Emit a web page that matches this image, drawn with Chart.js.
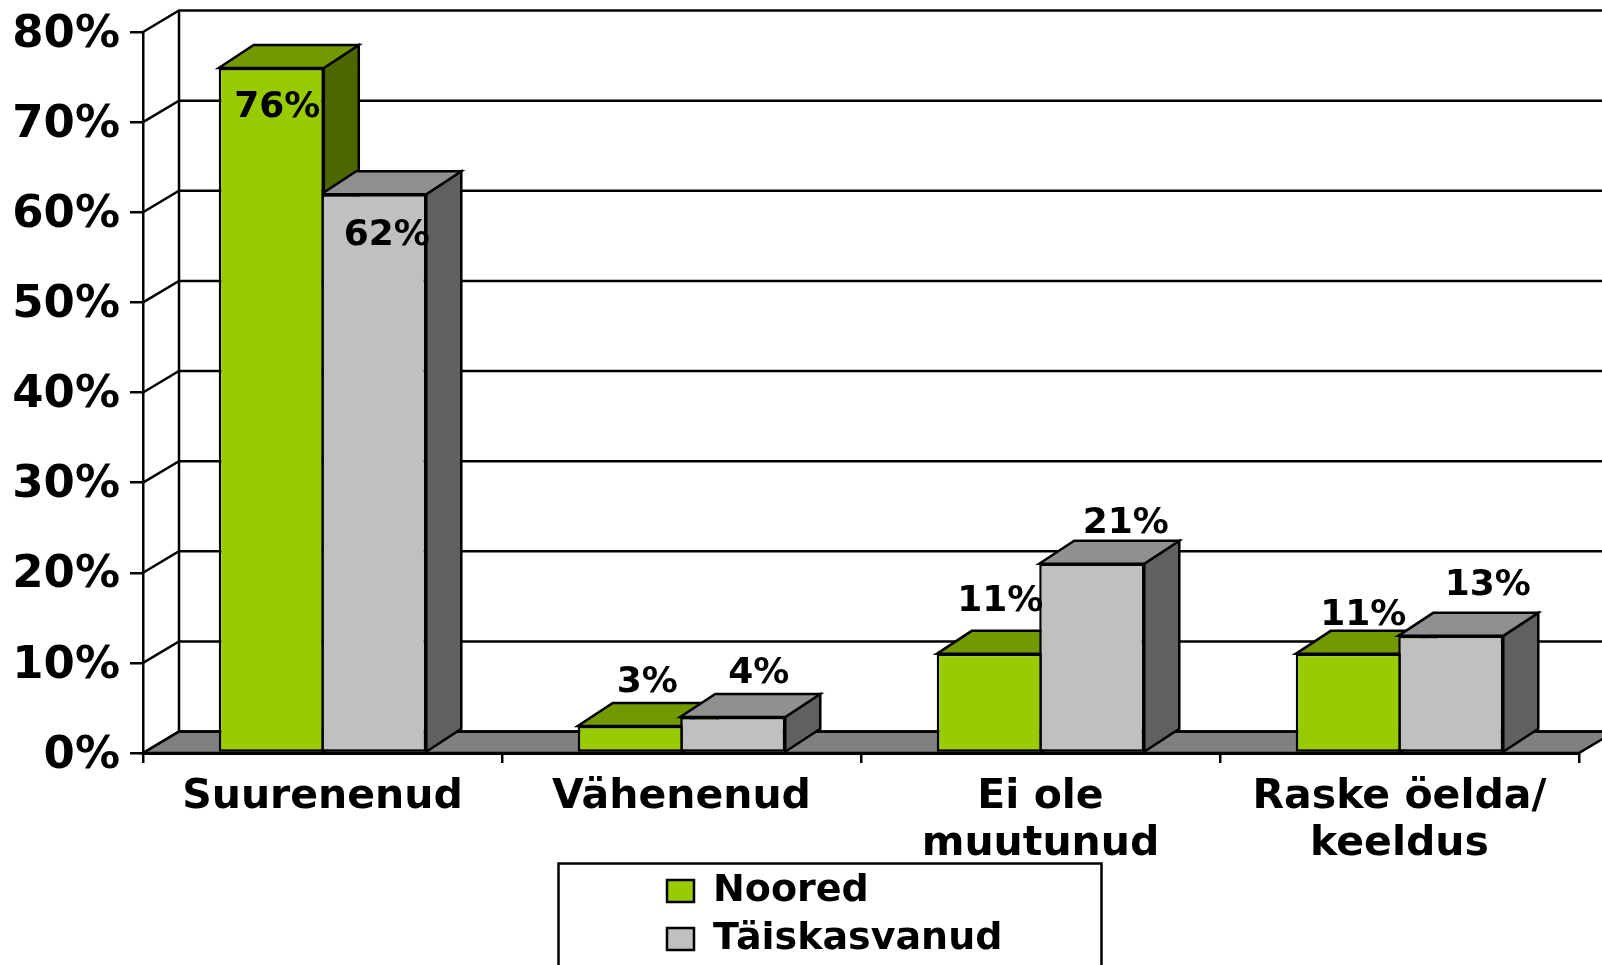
<!DOCTYPE html>
<html><head><meta charset="utf-8">
<style>html,body{margin:0;padding:0;background:#fff;overflow:hidden}canvas{display:block}</style>
<script src="https://cdn.jsdelivr.net/npm/chart.js@4"></script>
</head><body>
<canvas id="c" width="1602" height="965"></canvas>
<script>
const categories = [['Suurenenud'], ['Vähenenud'], ['Ei ole', 'muutunud'], ['Raske öelda/', 'keeldus']];
const noored = [76, 3, 11, 11];
const taiskasvanud = [62, 4, 21, 13];
const seriesNames = ['Noored', 'Täiskasvanud'];
const frontColors = ['#99CC00', '#C0C0C0'];
const topColors = ['#739900', '#909090'];
const sideColors = ['#4D6600', '#606060'];
// label nudges relative to each bar's top-centre: [dx, dy] of the text centre
const labelNudge = [
  [[6, 40], [13, 41]],
  [[17, -43], [26, -43]],
  [[11, -52], [34, -40]],
  [[15, -38], [37, -50]]
];
const FONT = '"DejaVu Sans"';
const LINE = 2.5;
const wallDX = 36, wallDY = 21.5, barDX = 35, barDY = 23;

function poly(ctx, pts, fill) {
  ctx.beginPath();
  pts.forEach((p, i) => i ? ctx.lineTo(p[0], p[1]) : ctx.moveTo(p[0], p[1]));
  ctx.closePath();
  if (fill) { ctx.fillStyle = fill; ctx.fill(); }
  ctx.stroke();
}

const box3d = {
  id: 'box3d',
  beforeLayout(chart) {
    const l = chart.legend;
    if (l && !l._narrowed) {
      const orig = l.update;
      l.update = function (w, h, m) { return orig.call(this, 420, h, m); };
      l._narrowed = true;
    }
  },
  afterLayout(chart) {
    const l = chart.legend;
    const h = l.height;
    l.left = 657; l.top = 862; l.right = 657 + 420; l.bottom = 862 + h; l.width = 420;
  },
  beforeDraw(chart) {
    const s = chart.scales.y;
    if (!s._nudged) {
      s.getLabelItems(chart.chartArea).forEach(it => { it.options.translation[1] += 3; });
      s._nudged = true;
    }
  },
  beforeDatasetsDraw(chart) {
    const ctx = chart.ctx, y = chart.scales.y, a = chart.chartArea;
    ctx.save();
    ctx.strokeStyle = '#000'; ctx.lineWidth = LINE; ctx.lineJoin = 'miter';
    const y0 = y.getPixelForValue(0);
    poly(ctx, [[a.left, y0], [a.left + wallDX, y0 - wallDY], [a.right + wallDX, y0 - wallDY], [a.right, y0]], '#808080');
    y.ticks.forEach(t => {
      const py = y.getPixelForValue(t.value);
      ctx.beginPath();
      ctx.moveTo(a.left, py);
      ctx.lineTo(a.left + wallDX, py - wallDY);
      ctx.lineTo(a.right + wallDX, py - wallDY);
      ctx.stroke();
    });
    ctx.beginPath();
    ctx.moveTo(a.left + wallDX, y.getPixelForValue(80) - wallDY);
    ctx.lineTo(a.left + wallDX, y0 - wallDY);
    ctx.stroke();
    chart.data.datasets.forEach((ds, di) => {
      chart.getDatasetMeta(di).data.forEach(b => {
        const L = b.x - b.width / 2, R = b.x + b.width / 2, T = b.y, B = b.base;
        poly(ctx, [[R, T], [R + barDX, T - barDY], [R + barDX, B - barDY], [R, B]], sideColors[di]);
        poly(ctx, [[L, T], [L + barDX, T - barDY], [R + barDX, T - barDY], [R, T]], topColors[di]);
      });
    });
    ctx.restore();
  },
  afterDatasetsDraw(chart) {
    const ctx = chart.ctx;
    ctx.save();
    ctx.fillStyle = '#000';
    ctx.font = 'bold 36px ' + FONT;
    ctx.textAlign = 'center'; ctx.textBaseline = 'middle';
    chart.data.datasets.forEach((ds, di) => {
      chart.getDatasetMeta(di).data.forEach((b, i) => {
        const n = labelNudge[i][di];
        ctx.fillText(ds.data[i] + '%', b.x + n[0], b.y + n[1]);
      });
    });
    ctx.restore();
  },
  afterDraw(chart) {
    const ctx = chart.ctx;
    ctx.save();
    ctx.strokeStyle = '#000'; ctx.lineWidth = LINE;
    ctx.strokeRect(558.5, 863.5, 543, 140);
    ctx.restore();
  }
};

new Chart(document.getElementById('c'), {
  type: 'bar',
  data: {
    labels: categories,
    datasets: [
      { label: seriesNames[0], data: noored, backgroundColor: frontColors[0] },
      { label: seriesNames[1], data: taiskasvanud, backgroundColor: frontColors[1] }
    ].map(d => Object.assign(d, { borderColor: '#000', borderWidth: LINE, borderSkipped: false, categoryPercentage: 0.571, barPercentage: 1.025 }))
  },
  options: {
    responsive: false, animation: false,
    layout: { padding: { left: 0, top: 32, right: 23, bottom: -14 } },
    plugins: {
      tooltip: { enabled: false },
      legend: {
        position: 'bottom', align: 'start',
        labels: { boxWidth: 27, boxHeight: 22, padding: 10, color: '#000', font: { family: FONT, weight: 'bold', size: 38 } }
      }
    },
    scales: {
      x: {
        grid: { drawOnChartArea: false, color: '#000', lineWidth: LINE, tickLength: 10 },
        border: { color: '#000', width: 3 },
        ticks: { color: '#000', padding: 11, maxRotation: 0, autoSkip: false, font: { family: FONT, weight: 'bold', size: 41, lineHeight: 1.15 } },
        afterFit(s) { s.height = 120; }
      },
      y: {
        min: 0, max: 80,
        grid: { drawOnChartArea: false, color: '#000', lineWidth: LINE, tickLength: 13 },
        border: { color: '#000', width: LINE },
        ticks: { stepSize: 10, color: '#000', padding: 10, font: { family: FONT, weight: 'bold', size: 45, lineHeight: 0.9 }, callback: v => v + '%' },
        afterFit(s) { s.width = 143; }
      }
    }
  },
  plugins: [box3d]
});
</script>
</body></html>
